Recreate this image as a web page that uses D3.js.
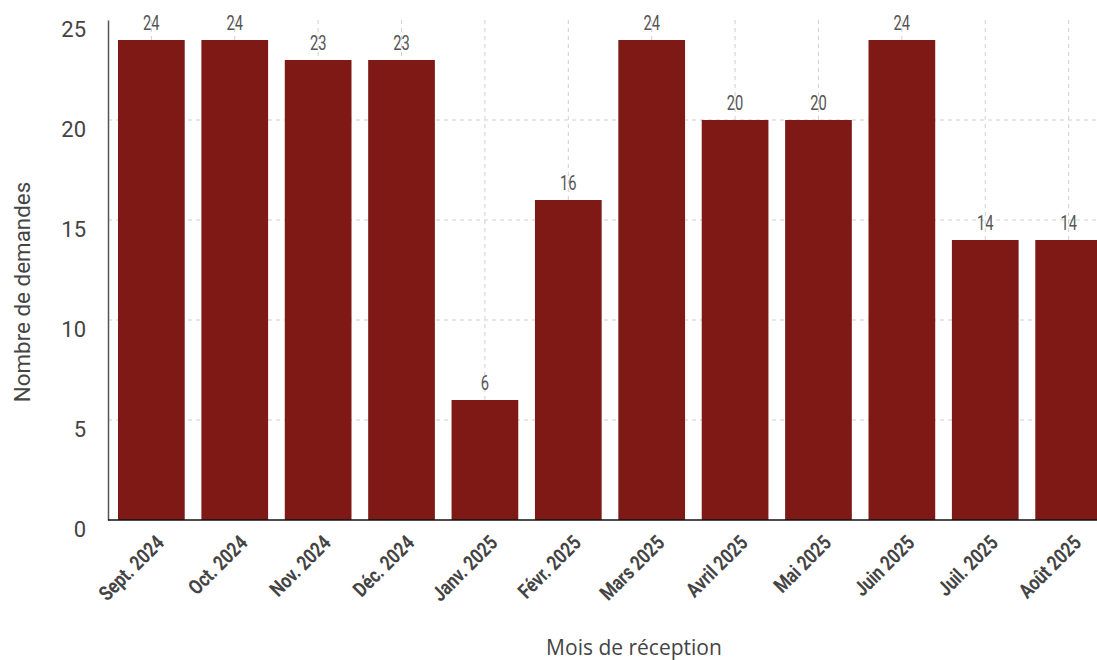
<!DOCTYPE html>
<html><head><meta charset="utf-8">
<script src="https://cdn.jsdelivr.net/npm/d3@7"></script>
<style>body{margin:0;background:#fff}svg{display:block}</style>
</head><body>
<script>
const categories = ["Sept. 2024","Oct. 2024","Nov. 2024","Déc. 2024","Janv. 2025","Févr. 2025","Mars 2025","Avril 2025","Mai 2025","Juin 2025","Juil. 2025","Août 2025"];
const values = [24,24,23,23,6,16,24,20,20,24,14,14];
const yTicks = [0,5,10,15,20,25];
const yTitle = "Nombre de demandes";
const xTitle = "Mois de réception";

const W = 1097, H = 660;
const mLeft = 108, mTop = 20, mBottom = 520;
const svg = d3.select("body").append("svg").attr("width", W).attr("height", H);

const x = d3.scaleBand().domain(categories).range([mLeft, 1112]).paddingInner(0.2).paddingOuter(0.12);
const y = d3.scaleLinear().domain([0,25]).range([mBottom, mTop]);

// grid
svg.append("g").selectAll("line").data(yTicks.filter(d=>d>0 && d<25)).join("line")
  .attr("x1", mLeft).attr("x2", W).attr("y1", d=>y(d)).attr("y2", d=>y(d))
  .attr("stroke","#d0d0d0").attr("stroke-dasharray","4,4").attr("stroke-width",1);
svg.append("g").selectAll("line").data(categories).join("line")
  .attr("x1", d=>x(d)+x.bandwidth()/2).attr("x2", d=>x(d)+x.bandwidth()/2)
  .attr("y1", y(25)).attr("y2", mBottom)
  .attr("stroke","#d0d0d0").attr("stroke-dasharray","4,4").attr("stroke-width",1);

// bars
svg.append("g").selectAll("rect").data(values).join("rect")
  .attr("x",(d,i)=>x(categories[i])).attr("width", x.bandwidth())
  .attr("y", d=>y(d)).attr("height", d=>mBottom - y(d))
  .attr("fill","#7f1916");

// value labels (condensed look via horizontal scaling)
svg.append("g").selectAll("text").data(values).join("text")
  .attr("transform",(d,i)=>`translate(${x(categories[i])+x.bandwidth()/2},${y(d)-10}) scale(0.7,1)`)
  .attr("text-anchor","middle")
  .attr("font-family","Roboto, sans-serif").attr("font-size", 21).attr("fill","#555")
  .text(d=>d);

// y axis
const ya = svg.append("g").attr("transform",`translate(${mLeft},0)`)
  .call(d3.axisLeft(y).tickValues(yTicks).tickSize(0).tickPadding(22));
ya.select(".domain").attr("stroke","#555").attr("stroke-width",1.5);
ya.selectAll("text").attr("font-family","Roboto, sans-serif").attr("font-size",22).attr("fill","#444").attr("dy","0.75em");

// x axis
const xa = svg.append("g").attr("transform",`translate(0,${mBottom})`)
  .call(d3.axisBottom(x).tickSize(0).tickPadding(0));
xa.select(".domain").attr("stroke","#111").attr("stroke-width",1.5).attr("d",`M${mLeft},0H${W}`);
xa.selectAll("text")
  .attr("font-family","Roboto, sans-serif").attr("font-weight","bold").attr("font-size",20.5).attr("fill","#444")
  .attr("text-anchor","end")
  .attr("y",0).attr("dy",0)
  .attr("transform","translate(14,24) rotate(-45) scale(0.82,1)");

// titles
svg.append("text").attr("x",634).attr("y",655).attr("text-anchor","middle")
  .attr("font-family","'Open Sans', sans-serif").attr("font-size",21).attr("fill","#444").text(xTitle);
svg.append("text").attr("transform","translate(30,292) rotate(-90)").attr("text-anchor","middle")
  .attr("font-family","Roboto, sans-serif").attr("font-size",22.4).attr("fill","#444").text(yTitle);
</script>
</body></html>
